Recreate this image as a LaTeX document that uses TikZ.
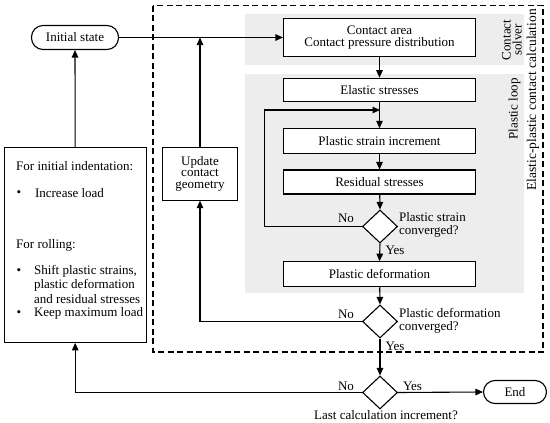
\documentclass[tikz,border=0pt]{standalone}
\usepackage{fontspec}
\setmainfont{Liberation Serif}
\usetikzlibrary{shapes.geometric,arrows.meta}
\begin{document}
\begin{tikzpicture}[x=1pt,y=-1pt,
  font=\fontsize{13}{14.5}\selectfont,
  line width=1.1pt,
  arr/.style={-{Triangle[length=7.5pt,width=6.5pt]}},
  box/.style={draw,fill=white,minimum width=192pt,inner sep=0pt,align=center},
  term/.style={draw,fill=white,rounded corners=11.5pt,inner sep=0pt},
  dia/.style={draw,fill=white,diamond,inner sep=0pt,minimum width=35pt,minimum height=33pt},
  lbl/.style={inner sep=0pt,anchor=west,align=left}]
\useasboundingbox (0,0) rectangle (550,423);
% gray regions
\fill[black!7] (245,13.5) rectangle (523.5,65);
\fill[black!7] (245,73.5) rectangle (523.5,293);
% dashed frame
\draw[dash pattern=on 6pt off 3.5pt] (153,5.5) rectangle (543,352);
% nodes
\node[term,minimum width=87pt,minimum height=24pt] (init) at (75,37.5) {Initial state};
\node[box,minimum height=38.5pt] (contact) at (379.5,37.5) {Contact area\\[-2.5pt]Contact pressure distribution};
\node[box,minimum height=23.5pt] (elastic) at (379.5,90) {Elastic stresses};
\node[box,minimum height=25pt] (pinc) at (379.5,141.3) {Plastic strain increment};
\node[box,minimum height=24pt] (resid) at (379.5,182) {Residual stresses};
\node[dia] (d1) at (380,226.5) {};
\node[box,minimum height=25pt] (pdef) at (379.5,274.2) {Plastic deformation};
\node[dia] (d2) at (380,321.5) {};
\node[dia] (d3) at (380,392.5) {};
\node[term,minimum width=63pt,minimum height=23pt] (end) at (515,392) {End};
\node[draw,fill=white,minimum width=75.5pt,minimum height=52.7pt,align=center,inner sep=0pt] (update) at (200,173.7) {Update\\[-3pt]contact\\[-3pt]geometry};
\node[draw,minimum width=141.7pt,minimum height=195pt,inner sep=0pt] (left) at (75.2,244.8) {};
% left box text
\node[lbl] (t1) at (15.7,166) {For initial indentation:};
\node[lbl] (b1) at (16,193.3) {\textbullet};
\node[lbl] (t2) at (34.5,193.3) {Increase load};
\node[lbl] (t3) at (15.7,245) {For rolling:};
\node[lbl] (b2) at (16,271.7) {\textbullet};
\node[lbl] (t4a) at (33.5,271.7) {Shift plastic strains,};
\node[lbl] (t4b) at (33.5,285.4) {plastic deformation};
\node[lbl] (t4c) at (33.5,299.2) {and residual stresses};
\node[lbl] (b3) at (16,313.3) {\textbullet};
\node[lbl] (t5) at (33.5,313.3) {Keep maximum load};
% rotated labels
\node[rotate=90,align=center,inner sep=0pt] (cs) at (512,40) {Contact\\[-3.5pt]solver};
\node[rotate=90,inner sep=0pt] (pl) at (514.5,109) {Plastic loop};
\node[rotate=90,inner sep=0pt,font=\fontsize{13.5}{15}\selectfont] (ep) at (533,100) {Elastic-plastic contact calculation};
% decision labels
\node[inner sep=0pt] (no1) at (346,218) {No};
\node[lbl] (q1) at (398.5,225) {Plastic strain\\[-2pt]converged?};
\node[lbl] (y1) at (385,250.5) {Yes};
\node[inner sep=0pt] (no2) at (346,314) {No};
\node[lbl] (q2) at (398.5,321) {Plastic deformation\\[-2pt]converged?};
\node[lbl] (y2) at (385,346) {Yes};
\node[inner sep=0pt] (no3) at (346,386) {No};
\node[inner sep=0pt] (y3) at (412.5,386) {Yes};
\node[inner sep=0pt] (q3) at (386,415.5) {Last calculation increment?};
% coordinates
\coordinate (lpA) at (264.5,226.5);
\coordinate (lpB) at (264.5,110);
\coordinate (lpC) at (380,110);
\coordinate (u2) at (200,321.5);
\coordinate (l3) at (75.2,392.5);
% connectors
\draw[arr] (init.east) -- (contact.west);
\draw[arr] (update.north) -- (update.north |- init.east);
\draw[arr] (contact) -- (elastic);
\draw[arr] (elastic) -- (pinc);
\draw[arr] (d1.west) -- (lpA) -- (lpB) -- (lpC);
\draw[arr] (pinc) -- (resid);
\draw[arr] (resid) -- (d1.north);
\draw[arr] (d1.south) -- (pdef.north);
\draw[arr] (pdef) -- (d2.north);
\draw[arr] (d2.west) -- (u2) -- (update.south);
\draw[arr] (d2.south) -- (d3.north);
\draw[arr] (d3.west) -- (l3) -- (left.south);
\draw[arr] (left.north) -- (init.south);
\draw[arr] (d3.east) -- (end.west);
\end{tikzpicture}
\end{document}
